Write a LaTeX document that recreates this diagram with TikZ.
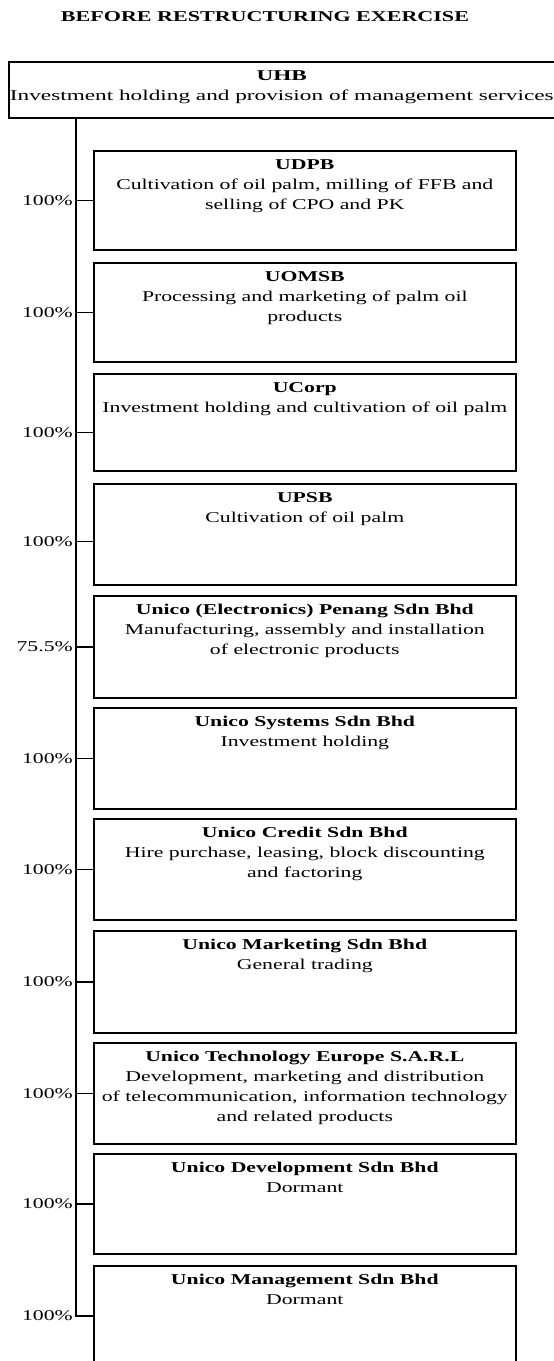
\documentclass[tikz,border=0pt]{standalone}
\usepackage{fontspec}
\setmainfont{Liberation Serif}
\usepackage{graphicx}
\usetikzlibrary{calc}
\newcommand{\widetext}[2][1.45]{\scalebox{#1}[1]{\begin{tabular}{@{}c@{}}#2\end{tabular}}}
\begin{document}
\begin{tikzpicture}[x=1pt,y=1pt,
  box/.style={draw, line width=1.6pt, minimum width=422pt, inner sep=0pt, anchor=north west},
  topbox/.style={draw, line width=1.6pt, minimum width=560pt, minimum height=56pt, inner sep=0pt, anchor=north west},
  lbl/.style={inner sep=0pt, anchor=north, font=\fontsize{15}{20}\selectfont},
  pct/.style={inner sep=0pt, anchor=east, font=\fontsize{15}{20}\selectfont},
  ttl/.style={inner sep=0pt, font=\fontsize{15}{20}\selectfont\bfseries},
  conn/.style={line width=1.5pt}]
\fill[white] (0,0) rectangle (554,-1361);
\useasboundingbox (0,0) rectangle (554,-1361);
\clip (0,0) rectangle (554,-1361);

\node[ttl] (title) at (265,-17) {\scalebox{1.47}[1]{BEFORE RESTRUCTURING EXERCISE}};

\node[topbox] (uhb) at (8,-61) {};
\node[lbl] (tuhb) at ([yshift=-5pt]$(uhb.north)+(-7pt,0)$) {\widetext[1.55]{\textbf{UHB}\\Investment holding and provision of management services}};

\node[box, minimum height=99pt] (b1) at (93,-150) {};
\node[box, minimum height=99pt] (b2) at (93,-262) {};
\node[box, minimum height=97pt] (b3) at (93,-373) {};
\node[box, minimum height=101pt] (b4) at (93,-483) {};
\node[box, minimum height=102pt] (b5) at (93,-595) {};
\node[box, minimum height=101pt] (b6) at (93,-707) {};
\node[box, minimum height=101pt] (b7) at (93,-818) {};
\node[box, minimum height=102pt] (b8) at (93,-930) {};
\node[box, minimum height=101pt] (b9) at (93,-1042) {};
\node[box, minimum height=100pt] (b10) at (93,-1153) {};
\node[box, minimum height=100pt] (b11) at (93,-1265) {};

\node[lbl] (t1) at ([yshift=-5pt]b1.north) {\widetext{\textbf{UDPB}\\Cultivation of oil palm, milling of FFB and\\selling of CPO and PK}};
\node[lbl] (t2) at ([yshift=-5pt]b2.north) {\widetext{\textbf{UOMSB}\\Processing and marketing of palm oil\\products}};
\node[lbl] (t3) at ([yshift=-5pt]b3.north) {\widetext{\textbf{UCorp}\\Investment holding and cultivation of oil palm}};
\node[lbl] (t4) at ([yshift=-5pt]b4.north) {\widetext{\textbf{UPSB}\\Cultivation of oil palm}};
\node[lbl] (t5) at ([yshift=-5pt]b5.north) {\widetext{\textbf{Unico (Electronics) Penang Sdn Bhd}\\Manufacturing, assembly and installation\\of electronic products}};
\node[lbl] (t6) at ([yshift=-5pt]b6.north) {\widetext{\textbf{Unico Systems Sdn Bhd}\\Investment holding}};
\node[lbl] (t7) at ([yshift=-5pt]b7.north) {\widetext{\textbf{Unico Credit Sdn Bhd}\\Hire purchase, leasing, block discounting\\and factoring}};
\node[lbl] (t8) at ([yshift=-5pt]b8.north) {\widetext{\textbf{Unico Marketing Sdn Bhd}\\General trading}};
\node[lbl] (t9) at ([yshift=-5pt]b9.north) {\widetext{\textbf{Unico Technology Europe S.A.R.L}\\Development, marketing and distribution\\of telecommunication, information technology\\and related products}};
\node[lbl] (t10) at ([yshift=-5pt]b10.north) {\widetext{\textbf{Unico Development Sdn Bhd}\\Dormant}};
\node[lbl] (t11) at ([yshift=-5pt]b11.north) {\widetext{\textbf{Unico Management Sdn Bhd}\\Dormant}};

\coordinate (trunk) at ($(uhb.south west)+(68pt,0)$);
\coordinate (c3) at ([yshift=-10pt]b3.west);
\coordinate (c4) at ([yshift=-7pt]b4.west);

\draw[conn] (trunk) |- (b11.west);
\draw[conn] (trunk |- b1.west) -- (b1.west);
\draw[conn] (trunk |- b2.west) -- (b2.west);
\draw[conn] (trunk |- c3) -- (c3);
\draw[conn] (trunk |- c4) -- (c4);
\draw[conn] (trunk |- b5.west) -- (b5.west);
\draw[conn] (trunk |- b6.west) -- (b6.west);
\draw[conn] (trunk |- b7.west) -- (b7.west);
\draw[conn] (trunk |- b8.west) -- (b8.west);
\draw[conn] (trunk |- b9.west) -- (b9.west);
\draw[conn] (trunk |- b10.west) -- (b10.west);

\node[pct] (p1) at ($(trunk |- b1.west)+(-3pt,0)$) {\scalebox{1.45}[1]{100\%}};
\node[pct] (p2) at ($(trunk |- b2.west)+(-3pt,0)$) {\scalebox{1.45}[1]{100\%}};
\node[pct] (p3) at ($(trunk |- c3)+(-3pt,0)$) {\scalebox{1.45}[1]{100\%}};
\node[pct] (p4) at ($(trunk |- c4)+(-3pt,0)$) {\scalebox{1.45}[1]{100\%}};
\node[pct] (p5) at ($(trunk |- b5.west)+(-3pt,0)$) {\scalebox{1.45}[1]{75.5\%}};
\node[pct] (p6) at ($(trunk |- b6.west)+(-3pt,0)$) {\scalebox{1.45}[1]{100\%}};
\node[pct] (p7) at ($(trunk |- b7.west)+(-3pt,0)$) {\scalebox{1.45}[1]{100\%}};
\node[pct] (p8) at ($(trunk |- b8.west)+(-3pt,0)$) {\scalebox{1.45}[1]{100\%}};
\node[pct] (p9) at ($(trunk |- b9.west)+(-3pt,0)$) {\scalebox{1.45}[1]{100\%}};
\node[pct] (p10) at ($(trunk |- b10.west)+(-3pt,0)$) {\scalebox{1.45}[1]{100\%}};
\node[pct] (p11) at ($(trunk |- b11.west)+(-3pt,0)$) {\scalebox{1.45}[1]{100\%}};
\end{tikzpicture}
\end{document}
